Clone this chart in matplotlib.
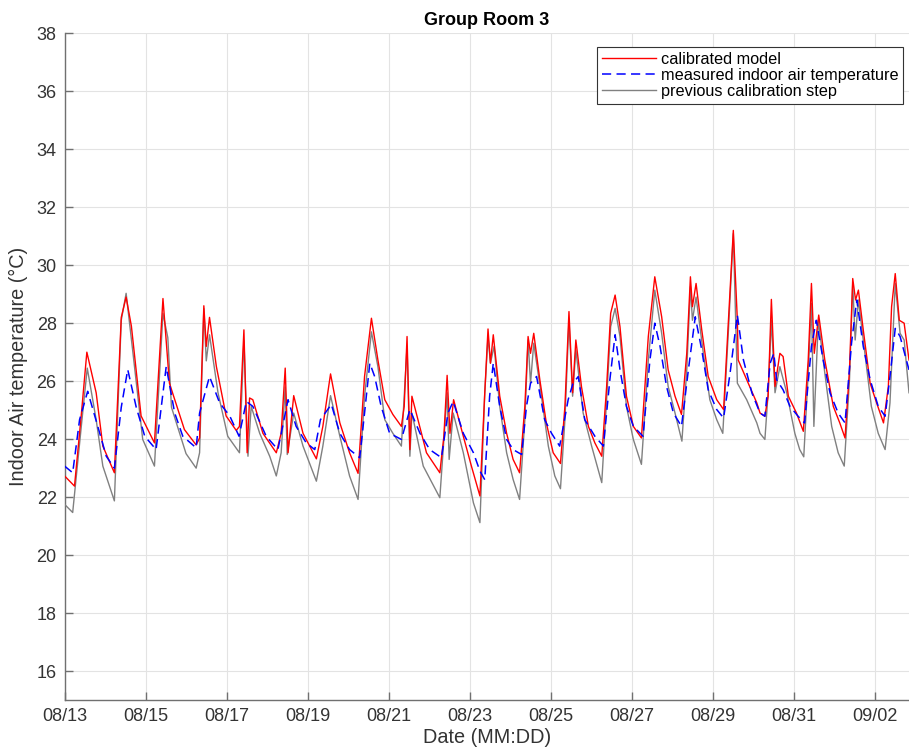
import matplotlib
matplotlib.use("Agg")
import matplotlib.pyplot as plt
import numpy as np

# days since 08/13 00:00, values in degC
t_cal = [-0.01, 0.235, 0.4, 0.54, 0.77, 0.935, 1.22, 1.39, 1.51, 1.64, 1.88, 2.21, 2.42, 2.58, 2.95, 3.24,
         3.325, 3.43, 3.49, 3.57, 3.74, 3.98, 4.23, 4.31, 4.42, 4.50, 4.56, 4.64, 4.89, 5.22, 5.34, 5.44,
         5.51, 5.65, 5.88, 6.21, 6.37, 6.56, 6.79, 7.03, 7.24, 7.40, 7.57, 7.73, 7.90, 8.10, 8.31, 8.38,
         8.45, 8.52, 8.57, 8.72, 8.93, 9.26, 9.36, 9.44, 9.51, 9.60, 9.84, 10.04, 10.25, 10.37, 10.45,
         10.51, 10.58, 10.74, 10.91, 11.07, 11.23, 11.36, 11.44, 11.50, 11.58, 11.73, 11.89, 12.06, 12.24,
         12.35, 12.45, 12.54, 12.62, 12.76, 12.93, 13.09, 13.26, 13.38, 13.48, 13.59, 13.71, 13.87, 14.04,
         14.24, 14.41, 14.57, 14.74, 14.90, 15.07, 15.23, 15.36, 15.45, 15.50, 15.59, 15.73, 15.89, 16.10,
         16.27, 16.39, 16.51, 16.61, 16.63, 16.84, 17.09, 17.17, 17.29, 17.37, 17.45, 17.54, 17.66, 17.74,
         17.87, 18.07, 18.24, 18.36, 18.44, 18.51, 18.62, 18.77, 18.98, 19.14, 19.27, 19.38, 19.46, 19.53,
         19.60, 19.72, 19.89, 20.05, 20.22, 20.34, 20.42, 20.51, 20.61, 20.73, 20.85]
calibrated = [22.73, 22.38, 24.8, 27.0, 25.6, 23.76, 22.84, 28.2, 28.9, 27.9, 24.8, 23.87, 28.85, 25.93, 24.33, 23.8,
              24.04, 28.6, 27.2, 28.2, 26.5, 24.8, 24.3, 24.44, 27.77, 23.53, 25.42, 25.36, 24.2, 23.53, 24.2, 26.45,
              23.53, 25.5, 24.2, 23.32, 24.44, 26.25, 24.56, 23.53, 22.82, 26.16, 28.17, 26.73, 25.36, 24.85, 24.44, 25.13,
              27.54, 23.64, 25.48, 24.67, 23.53, 22.84, 24.1, 26.2, 24.2, 25.36, 24.1, 23.07, 22.04, 25.6, 27.8,
              26.62, 27.6, 25.48, 24.2, 23.3, 22.84, 25.13, 27.54, 26.96, 27.65, 26.05, 24.56, 23.53, 23.16,
              25.13, 28.4, 25.6, 27.42, 25.8, 24.44, 23.87, 23.41, 25.8, 28.34, 28.97, 27.88, 25.48, 24.44,
              24.04, 27.54, 29.6, 28.22, 26.39, 25.48, 24.85, 26.96, 29.6, 28.57, 29.37, 27.77, 26.16, 25.36,
              25.02, 28.1, 31.2, 28.1, 26.73, 26.05, 25.25, 24.9, 24.79, 25.48, 28.82, 25.82, 26.96, 26.85,
              25.48, 24.9, 24.27, 26.73, 29.37, 26.96, 28.28, 26.73, 25.13, 24.56, 24.04, 26.39, 29.54, 28.8,
              29.14, 27.77, 25.93, 25.25, 24.56, 25.82, 28.57, 29.71, 28.1, 28.0, 26.73]

t_meas = [-0.01, 0.19, 0.36, 0.56, 0.81, 1.02, 1.22, 1.39, 1.55, 1.76, 1.97, 2.25, 2.50, 2.71, 2.91, 3.24,
          3.325, 3.57, 3.82, 4.07, 4.30, 4.48, 4.64, 4.97, 5.26, 5.51, 5.71, 5.96, 6.17, 6.31, 6.58, 6.79,
          7.03, 7.28, 7.40, 7.53, 7.65, 7.81, 8.02, 8.31, 8.52, 8.77, 9.01, 9.30, 9.46, 9.59, 9.84, 10.09,
          10.25, 10.37, 10.49, 10.58, 10.74, 10.91, 11.07, 11.28, 11.40, 11.50, 11.65, 11.85, 12.02, 12.22,
          12.43, 12.55, 12.68, 12.84, 13.09, 13.30, 13.46, 13.59, 13.71, 13.87, 14.04, 14.28, 14.45, 14.57,
          14.70, 14.86, 15.03, 15.23, 15.40, 15.57, 15.73, 15.89, 16.10, 16.27, 16.43, 16.61, 16.76, 16.97,
          17.17, 17.29, 17.42, 17.51, 17.58, 17.74, 17.91, 18.11, 18.27, 18.44, 18.56, 18.73, 18.90, 19.10,
          19.27, 19.43, 19.56, 19.72, 19.89, 20.09, 20.26, 20.38, 20.51, 20.63, 20.85]
measured = [23.07, 22.84, 24.67, 25.65, 24.44, 23.41, 23.0, 25.1, 26.4, 25.1, 24.1, 23.64, 26.5, 24.9, 24.1, 23.7,
            24.9, 26.16, 25.25, 24.8, 24.1, 25.3, 25.13, 24.1, 23.64, 25.36, 24.44, 23.87, 23.64, 24.67, 25.2, 24.2,
            23.64, 23.36, 24.9, 26.62, 26.16, 25.13, 24.2, 23.99, 25.02, 24.2, 23.64, 23.36, 24.9, 25.3, 24.2, 23.53,
            22.9, 22.6, 25.48, 26.62, 25.13, 23.99, 23.64, 23.47, 25.13, 25.93, 26.16, 24.67, 24.2, 23.76,
            25.36, 25.93, 26.16, 24.67, 24.1, 23.76, 26.05, 27.6, 26.4, 25.13, 24.44, 24.1, 26.73, 28.0,
            27.2, 25.82, 24.9, 24.44, 26.39, 28.22, 27.08, 25.7, 25.02, 24.73, 26.28, 28.28, 26.73, 25.59,
            24.9, 24.79, 26.62, 26.96, 26.05, 25.7, 25.13, 24.79, 24.56, 27.2, 28.1, 26.73, 25.59, 24.9,
            24.56, 27.31, 28.8, 27.2, 26.05, 25.13, 24.79, 26.16, 27.82, 27.54, 26.39]

t_prev = [-0.01, 0.19, 0.4, 0.55, 0.77, 0.935, 1.22, 1.39, 1.51, 1.68, 1.92, 2.21, 2.42, 2.54, 2.63, 2.99, 3.24,
          3.325, 3.43, 3.49, 3.57, 3.78, 4.02, 4.31, 4.42, 4.52, 4.60, 4.81, 5.06, 5.22, 5.34, 5.44, 5.49,
          5.65, 5.88, 6.21, 6.37, 6.56, 6.79, 7.03, 7.24, 7.40, 7.57, 7.73, 7.90, 8.10, 8.31, 8.45, 8.52,
          8.57, 8.85, 9.26, 9.44, 9.49, 9.59, 9.84, 10.09, 10.25, 10.37, 10.45, 10.51, 10.60, 10.74, 10.91,
          11.07, 11.23, 11.36, 11.44, 11.50, 11.58, 11.77, 11.94, 12.10, 12.24, 12.35, 12.45, 12.54, 12.62,
          12.80, 13.01, 13.26, 13.38, 13.48, 13.59, 13.71, 13.87, 14.04, 14.24, 14.41, 14.57, 14.74, 14.90,
          15.07, 15.24, 15.36, 15.45, 15.50, 15.59, 15.77, 15.93, 16.10, 16.25, 16.39, 16.51, 16.61, 16.84,
          17.09, 17.17, 17.29, 17.37, 17.45, 17.54, 17.66, 17.83, 18.03, 18.15, 18.25, 18.36, 18.44, 18.50,
          18.61, 18.77, 18.94, 19.10, 19.25, 19.38, 19.46, 19.52, 19.60, 19.76, 19.92, 20.09, 20.26, 20.38,
          20.51, 20.63, 20.73, 20.85]
previous = [21.75, 21.47, 24.4, 26.45, 24.67, 23.07, 21.87, 28.1, 29.03, 26.96, 23.99, 23.07, 28.34, 27.5, 25.1, 23.5, 23.0,
            23.53, 28.5, 26.7, 27.6, 25.6, 24.1, 23.53, 27.4, 23.41, 25.13, 24.2, 23.4, 22.73, 23.53, 25.8, 23.47,
            24.9, 23.76, 22.55, 23.76, 25.5, 24.1, 22.73, 21.92, 25.48, 27.7, 26.5, 24.67, 24.2, 23.76, 27.2, 23.41,
            24.9, 23.07, 21.98, 25.6, 23.3, 24.9, 23.53, 21.8, 21.12, 25.6, 27.54, 26.62, 27.2, 25.13, 23.53,
            22.61, 21.92, 24.67, 27.42, 25.93, 27.31, 25.48, 23.76, 22.73, 22.29, 24.67, 28.1, 25.48, 27.08,
            24.9, 23.76, 22.5, 25.36, 27.88, 28.51, 27.54, 25.13, 23.99, 23.13, 26.73, 29.14, 27.65, 25.82,
            24.9, 23.93, 26.39, 29.26, 28.1, 28.9, 26.96, 25.36, 24.67, 24.2, 27.77, 31.09, 25.93, 25.36,
            24.56, 24.2, 23.99, 25.6, 28.1, 25.6, 26.5, 25.6, 24.2, 23.64, 23.39, 26.28, 28.68, 24.44,
            28.1, 26.28, 24.44, 23.53, 23.07, 26.05, 29.37, 27.42, 28.8, 26.96, 25.13, 24.2, 23.64, 25.25,
            29.37, 27.65, 27.42, 25.6]

tick_days = np.arange(0, 21, 2)
tick_labels = ['08/13', '08/15', '08/17', '08/19', '08/21', '08/23',
               '08/25', '08/27', '08/29', '08/31', '09/02']

plt.rcParams['font.family'] = ['Liberation Sans', 'DejaVu Sans']

fig = plt.figure(figsize=(9.09, 7.56), dpi=100)
ax = fig.add_axes([0.0715, 0.074, 0.9285, 0.882])

ax.plot(t_cal, calibrated, color='#ff0000', lw=1.0, label='calibrated model', zorder=4)
ax.plot(t_meas, measured, color='#0000ff', lw=1.1, ls=(0, (6, 3.5)), label='measured indoor air temperature', zorder=5)
ax.plot(t_prev, previous, color='#808080', lw=1.0, label='previous calibration step', zorder=3)

ax.set_xlim(0, 20.85)
ax.set_ylim(15, 38)
ax.set_xticks(tick_days)
ax.set_xticklabels(tick_labels)
ax.set_yticks(np.arange(16, 39, 2))
ax.grid(True, color='#e3e3e3', lw=0.8)
ax.set_axisbelow(True)
ax.tick_params(direction='in', length=6, width=1, labelsize=13, color='#707070', labelcolor='#333333', pad=6)
for side in ['top', 'right']:
    ax.spines[side].set_visible(False)
for side in ['left', 'bottom']:
    ax.spines[side].set_color('#707070')
    ax.spines[side].set_linewidth(1.0)

ax.set_title('Group Room 3', fontsize=13, fontweight='bold', pad=6)
ax.set_xlabel('Date (MM:DD)', fontsize=14.3, color='#333333', labelpad=2)
ax.set_ylabel('Indoor Air temperature (°C)', fontsize=14.3, color='#333333', labelpad=6)

leg = ax.legend(loc='upper right', bbox_to_anchor=(0.993, 0.979), borderaxespad=0, fontsize=11.7,
                fancybox=False, framealpha=1, edgecolor='#333333', handlelength=3.3,
                labelspacing=0.05, borderpad=0.3, handletextpad=0.3)
leg.get_frame().set_linewidth(0.8)

fig.savefig('out.png', dpi=100)
